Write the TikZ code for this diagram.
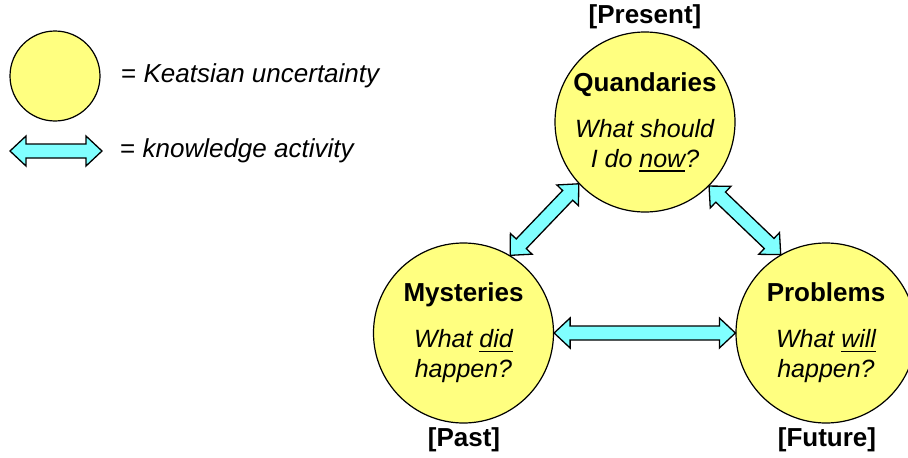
\documentclass[tikz,border=0pt]{standalone}
\usepackage{fontspec}
\setmainfont{Liberation Sans}
\usetikzlibrary{calc}

\definecolor{uncertfill}{RGB}{255,255,128}
\definecolor{activityfill}{RGB}{128,255,255}

% word with a solid underline
\newcommand\ulword[1]{\setbox0\hbox{#1}\rlap{\rule[-4.5pt]{\wd0}{1.5pt}}\box0}

% double-headed block arrow between two named points
\newcommand\kbarrow[2]{%
  \draw[activity] (#1)
    -- ($(#1)!16pt!(#2)!15pt!90:(#2)$)
    -- ($(#1)!16pt!(#2)!7pt!90:(#2)$)
    -- ($(#2)!16pt!(#1)!7pt!-90:(#1)$)
    -- ($(#2)!16pt!(#1)!15pt!-90:(#1)$)
    -- (#2)
    -- ($(#2)!16pt!(#1)!15pt!90:(#1)$)
    -- ($(#2)!16pt!(#1)!7pt!90:(#1)$)
    -- ($(#1)!16pt!(#2)!7pt!-90:(#2)$)
    -- ($(#1)!16pt!(#2)!15pt!-90:(#2)$)
    -- cycle;}

\begin{document}
\begin{tikzpicture}[x=1pt,y=-1pt,
  uncert/.style={circle, draw=black, line width=1.2pt, fill=uncertfill,
    minimum size=180pt, inner sep=0pt, align=center,
    font=\fontsize{25}{30}\selectfont},
  legendcirc/.style={circle, draw=black, line width=1.2pt, fill=uncertfill,
    minimum size=90pt, inner sep=0pt},
  activity/.style={draw=black, line width=1.3pt, fill=activityfill, line join=miter},
  era/.style={font=\fontsize{26}{30}\selectfont\bfseries, inner sep=0pt},
  legendtext/.style={font=\fontsize{26}{30}\selectfont, anchor=west, inner sep=0pt}]
  \useasboundingbox (0,0) rectangle (908,458);

  % legend
  \node[legendcirc] (keycirc) at (55,76) {};
  \node[legendtext] (keycirctext) at (121,76) {= \textit{Keatsian uncertainty}};
  \coordinate (keyL) at (10,151);
  \coordinate (keyR) at (102,151);
  \kbarrow{keyL}{keyR}
  \node[legendtext] (keyarrowtext) at (120,151) {= \textit{knowledge activity}};

  % the three uncertainties
  \node[uncert] (Q) at (645,122)
    {{\fontsize{26}{30}\selectfont\bfseries Quandaries}\\[16pt]
     \textit{What should}\\ \textit{I do \ulword{now}?}};
  \node[uncert] (M) at (463.5,333)
    {{\fontsize{26}{30}\selectfont\bfseries Mysteries}\\[16pt]
     \textit{What \ulword{did}}\\ \textit{happen?}};
  \node[uncert] (P) at (826,333)
    {{\fontsize{26}{30}\selectfont\bfseries Problems}\\[16pt]
     \textit{What \ulword{will}}\\ \textit{happen?}};

  \node[era] (present) at (645,17) {[Present]};
  \node[era] (past) at (464,440) {[Past]};
  \node[era] (future) at (827,440) {[Future]};

  % knowledge activities
  \kbarrow{M.59}{Q.223.6}
  \kbarrow{Q.315.5}{P.120}
  \kbarrow{M.0}{P.180}
\end{tikzpicture}
\end{document}
